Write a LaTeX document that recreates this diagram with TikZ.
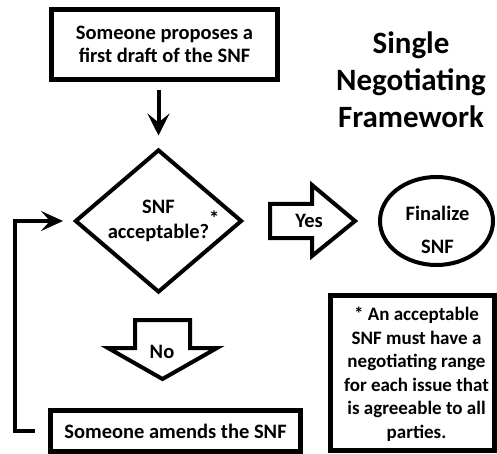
\documentclass[tikz,border=0pt]{standalone}
\usepackage{fontspec}
\setmainfont{Carlito}
\usetikzlibrary{arrows.meta,shapes.geometric}
\begin{document}
\begin{tikzpicture}[x=1pt,y=-1pt,
  body/.style={font=\fontsize{20.5}{23.5}\selectfont\bfseries, align=center, text=black},
  box/.style={body, draw, line width=5pt, rectangle, inner sep=0pt},
  flow/.style={line width=4pt, -{Stealth[length=22pt,width=22pt,inset=9pt]}},
  blockarrow/.style={draw, line width=4pt, line join=miter},
]
\useasboundingbox (0,0) rectangle (497,454);

% title
\node[font=\fontsize{31}{37}\selectfont\bfseries, align=center] (title) at (411,80)
  {Single\\Negotiating\\Framework};

% boxes
\node[box, minimum width=226pt, minimum height=70pt] (top) at (164.5,44.5)
  {Someone proposes a\\first draft of the SNF};
\node[box, minimum width=250pt, minimum height=41pt] (amend) at (175.5,431)
  {Someone amends the SNF};
\node[box, minimum width=164pt, minimum height=155pt] (note) at (412.5,373) {};
\node[body, font=\fontsize{19}{23.5}\selectfont\bfseries] (notetext) at (416.5,374)
  {* An acceptable\\SNF must have a\\negotiating range\\for each issue that\\is agreeable to all\\parties.};

% decision
\node[body, draw, line width=4pt, shape=diamond, aspect=1.17, inner sep=0pt,
      minimum width=167pt, minimum height=143pt, font=\fontsize{20.5}{25}\selectfont\bfseries]
  (snf) at (158.5,221) {SNF\\acceptable?\rlap{\smash{\raisebox{1.3ex}{*}}}};

% final
\node[body, draw, line width=4pt, ellipse, inner sep=0pt,
      minimum width=113pt, minimum height=88pt, font=\fontsize{20.5}{33}\selectfont\bfseries]
  (final) at (436.5,221) {};
\node[body, font=\fontsize{20.5}{33}\selectfont\bfseries] (finaltext) at (437.5,230) {Finalize\\SNF};

% connectors
\draw[flow, shorten <=8pt, shorten >=12pt] (snf.north |- top.south) -- (snf.north);
\draw[line width=4pt, -{Stealth[length=22pt,width=20pt,inset=9pt]}, shorten <=13pt, shorten >=10pt]
  (amend.west) -- ++(-33,0) |- (snf.west);

% block arrows
\draw[blockarrow] (270,204) -- (312,204) -- (312,185) -- (355,221) -- (312,256) -- (312,238) -- (270,238) -- cycle;
\node[body] (yes) at (309,221) {Yes};
\draw[blockarrow] (135,320) -- (190,320) -- (190,348) -- (217,348) -- (162.5,379) -- (108,348) -- (135,348) -- cycle;
\node[body] (no) at (162,352) {No};
\end{tikzpicture}
\end{document}
